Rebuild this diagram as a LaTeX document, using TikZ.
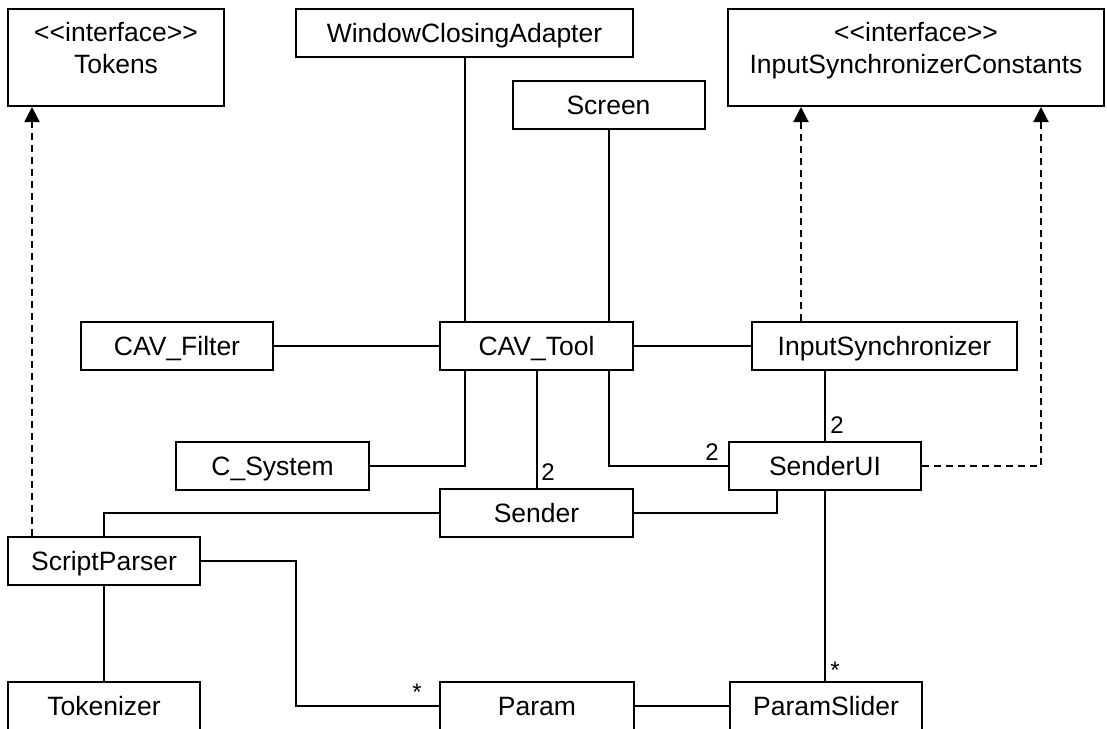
\documentclass[tikz,border=0pt]{standalone}
\usepackage{fontspec}
\newfontfamily\umlfont{Liberation Sans}
\usetikzlibrary{arrows.meta}
\begin{document}
\begin{tikzpicture}[x=1pt,y=-1pt]
\tikzset{
  cls/.style={draw, line width=2pt, fill=white, inner sep=0pt, minimum height=48pt,
    font=\umlfont\fontsize{26.5}{32}\selectfont, text height=19pt, text depth=0pt},
  ibox/.style={draw, line width=2pt, fill=white, inner sep=0pt, minimum height=97pt},
  itext/.style={font=\umlfont\fontsize{26.5}{32}\selectfont, inner sep=0pt, anchor=base},
  assoc/.style={line width=2pt},
  dep/.style={line width=2pt, dash pattern=on 7pt off 5pt, -{Triangle[length=15pt,width=15pt]}},
  mult/.style={font=\umlfont\fontsize{24}{24}\selectfont, inner sep=0pt, anchor=base}
}
\fill[white] (0,0) rectangle (1107,728);
\useasboundingbox (0,0) rectangle (1107,728);

% interface boxes
\node[ibox, minimum width=216pt] (tokens) at (116,57.5) {};
\node[itext] (tokensA) at (116,41) {<<interface>>};
\node[itext] (tokensB) at (116,73) {Tokens};
\node[ibox, minimum width=376pt] (isc) at (916,57.5) {};
\node[itext] (iscA) at (916,41) {<<interface>>};
\node[itext] (iscB) at (916,73) {InputSynchronizerConstants};

% classes
\node[cls, minimum width=337pt] (wca) at (464.5,33) {WindowClosingAdapter};
\node[cls, minimum width=192pt] (screen) at (608.5,105) {Screen};
\node[cls, minimum width=192pt] (cavfilter) at (177,345.5) {CAV\_Filter};
\node[cls, minimum width=193pt] (cavtool) at (536.5,345.5) {CAV\_Tool};
\node[cls, minimum width=265pt] (inputsync) at (884.5,345.5) {InputSynchronizer};
\node[cls, minimum width=193pt] (csystem) at (272.5,465.5) {C\_System};
\node[cls, minimum width=192pt] (senderui) at (825,465.5) {SenderUI};
\node[cls, minimum width=193pt] (sender) at (536.5,513) {Sender};
\node[cls, minimum width=192pt] (scriptparser) at (104,561) {ScriptParser};
\node[cls, minimum width=192pt] (tokenizer) at (104,706) {Tokenizer};
\node[cls, minimum width=194pt] (param) at (537,706) {Param};
\node[cls, minimum width=192pt] (paramslider) at (826,706) {ParamSlider};

% helper coordinates
\coordinate (c0) at (32,0);
\coordinate (c1) at (801,0);
\coordinate (c2) at (1041,0);
\coordinate (c3) at (777,0);
\coordinate (c4) at (296,600);

% associations
\draw[assoc] (wca.south) -- (wca.south |- cavtool.north);
\draw[assoc] (screen.south) -- (screen.south |- cavtool.north);
\draw[assoc] (cavfilter.east) -- (cavtool.west);
\draw[assoc] (cavtool.east) -- (inputsync.west);
\draw[assoc] (cavtool.south -| wca.south) |- (csystem.east);
\draw[assoc] (cavtool.south) -- (sender.north);
\draw[assoc] (cavtool.south -| screen.south) |- (senderui.west);
\draw[assoc] (inputsync.south -| senderui.north) -- (senderui.north);
\draw[assoc] (sender.east) -| (senderui.south -| c3);
\draw[assoc] (sender.west) -| (scriptparser.north);
\draw[assoc] (scriptparser.south) -- (tokenizer.north);
\draw[assoc] (scriptparser.east) -| (c4) |- (param.west);
\draw[assoc] (param.east) -- (paramslider.west);
\draw[assoc] (senderui.south) -- (senderui.south |- paramslider.north);

% dependencies
\draw[dep] (scriptparser.north -| c0) -- (tokens.south -| c0);
\draw[dep] (inputsync.north -| c1) -- (isc.south -| c1);
\draw[dep] (senderui.east) -| (isc.south -| c2);

% multiplicities
\node[mult] (m1) at (548,480) {2};
\node[mult] (m2) at (712,460) {2};
\node[mult] (m3) at (837,433) {2};
\node[mult] (m4) at (417,700) {*};
\node[mult] (m5) at (835,678) {*};
\end{tikzpicture}
\end{document}
